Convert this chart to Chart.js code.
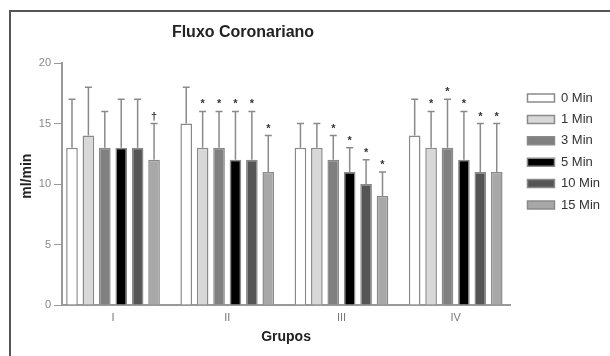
<!DOCTYPE html>
<html>
<head>
<meta charset="utf-8">
<script src="https://cdn.jsdelivr.net/npm/chart.js@4/dist/chart.umd.min.js"></script>
<style>
  html, body { margin: 0; padding: 0; background: #fff; }
  #wrap { position: relative; width: 610px; height: 356px; overflow: hidden; }
  #frame { position: absolute; left: 9px; top: 10px; width: 700px; height: 500px;
           border-left: 2px solid #555; border-top: 2px solid #555; }
  #c { position: absolute; left: 0; top: 0; }
</style>
</head>
<body>
<div id="wrap">
  <div id="frame"></div>
  <canvas id="c" width="610" height="356"></canvas>
</div>
<script>
// ---- data ----
const chartTitle = 'Fluxo Coronariano';
const groups = ['I', 'II', 'III', 'IV'];
const seriesNames = ['0 Min', '1 Min', '3 Min', '5 Min', '10 Min', '15 Min'];
const yTicks = [0, 5, 10, 15, 20];

const min0 = [13, 15, 13, 14];
const min1 = [14, 13, 13, 13];
const min3 = [13, 13, 12, 13];
const min5 = [13, 12, 11, 12];
const min10 = [13, 12, 10, 11];
const min15 = [12, 11, 9, 11];

const sd0 = [4, 3, 2, 3];
const sd1 = [4, 3, 2, 3];
const sd3 = [3, 3, 2, 4];
const sd5 = [4, 4, 2, 4];
const sd10 = [4, 4, 2, 4];
const sd15 = [3, 3, 2, 4];

const mark0 = ['', '', '', ''];
const mark1 = ['', '*', '', '*'];
const mark3 = ['', '*', '*', '*'];
const mark5 = ['', '*', '*', '*'];
const mark10 = ['', '*', '*', '*'];
const mark15 = ['\u2020', '*', '*', '*'];

const seriesValues = [min0, min1, min3, min5, min10, min15];
const seriesSD = [sd0, sd1, sd3, sd5, sd10, sd15];
const seriesMarks = [mark0, mark1, mark3, mark5, mark10, mark15];
const fills = ['#ffffff', '#d8d8d8', '#808080', '#000000', '#555555', '#a8a8a8'];

const FONT = "'Liberation Sans', Arial, Helvetica, sans-serif";

const datasets = seriesNames.map((name, s) => ({
  label: name,
  data: seriesValues[s].map((v, i) => ({ x: i, y: v })),
  backgroundColor: fills[s],
  borderColor: '#8a8a8a',
  borderWidth: 1.5,
  borderSkipped: 'bottom',
  categoryPercentage: 0.862,
  barPercentage: 0.71,
  sd: seriesSD[s],
  marks: seriesMarks[s]
}));

const errorBars = {
  id: 'errorBars',
  afterDatasetsDraw(chart) {
    const ctx = chart.ctx;
    const yScale = chart.scales.y;
    ctx.save();
    chart.data.datasets.forEach((ds, di) => {
      const meta = chart.getDatasetMeta(di);
      meta.data.forEach((el, j) => {
        const top = yScale.getPixelForValue(ds.data[j].y + ds.sd[j]);
        ctx.strokeStyle = '#8a8a8a';
        ctx.lineWidth = 1.5;
        ctx.beginPath();
        ctx.moveTo(el.x, el.y);
        ctx.lineTo(el.x, top);
        ctx.moveTo(el.x - 3.5, top);
        ctx.lineTo(el.x + 3.5, top);
        ctx.stroke();
        const m = ds.marks[j];
        if (m) {
          ctx.fillStyle = '#333';
          ctx.font = 'bold 11px ' + FONT;
          ctx.textAlign = 'center';
          ctx.textBaseline = 'middle';
          ctx.fillText(m, el.x, top - 7);
        }
      });
    });
    ctx.restore();
  }
};

const titlePlugin = {
  id: 'titleText',
  afterDraw(chart) {
    const ctx = chart.ctx;
    ctx.save();
    ctx.fillStyle = '#222';
    ctx.font = 'bold 16px ' + FONT;
    ctx.textAlign = 'center';
    ctx.textBaseline = 'middle';
    ctx.fillText(chartTitle, 243, 33);
    ctx.restore();
  }
};

new Chart(document.getElementById('c'), {
  type: 'bar',
  data: { datasets },
  plugins: [errorBars, titlePlugin],
  options: {
    responsive: false,
    animation: false,
    devicePixelRatio: 1,
    layout: { padding: { top: 63, left: 0, right: 0, bottom: 0 } },
    plugins: {
      title: { display: false },
      tooltip: { enabled: false },
      legend: {
        display: true,
        position: 'right',
        align: 'start',
        fullSize: false,
        title: { display: true, text: ' ', font: { size: 10 }, padding: { top: 0, bottom: 8.1 } },
        labels: {
          boxWidth: 27,
          boxHeight: 8,
          padding: 8.4,
          color: '#333',
          font: { family: FONT, size: 13 }
        }
      }
    },
    scales: {
      x: {
        type: 'linear',
        position: 'bottom',
        offset: false,
        min: -0.4466,
        max: 3.476,
        afterBuildTicks: (scale) => { scale.ticks = groups.map((g, i) => ({ value: i })); },
        afterFit: (scale) => { scale.height = 51; },
        grid: { display: false, drawTicks: false, offset: false },
        border: { display: true, color: '#999', width: 2 },
        ticks: {
          callback: (v) => groups[v] !== undefined ? groups[v] : '',
          color: '#777',
          font: { family: FONT, size: 11 },
          padding: 6,
          maxRotation: 0,
          autoSkip: false
        },
        title: {
          display: true,
          text: 'Grupos',
          color: '#222',
          font: { family: FONT, size: 14, weight: 'bold' },
          padding: { top: 0, bottom: 10.6 }
        }
      },
      y: {
        type: 'linear',
        position: 'left',
        min: 0,
        max: 20,
        afterBuildTicks: (scale) => { scale.ticks = yTicks.map(v => ({ value: v })); },
        afterFit: (scale) => { scale.width = 62; },
        grid: { display: true, drawOnChartArea: false, drawTicks: true, tickLength: 8, color: '#999', lineWidth: 1 },
        border: { display: true, color: '#999', width: 2 },
        ticks: {
          color: '#888',
          font: { family: FONT, size: 11 },
          padding: 3
        },
        title: {
          display: true,
          text: '    ml/min',
          color: '#222',
          font: { family: FONT, size: 14, weight: 'bold' },
          padding: { top: 18.6, bottom: 0 }
        }
      },
      y2: {
        type: 'linear',
        position: 'right',
        display: true,
        afterFit: (scale) => { scale.width = 9; },
        grid: { display: false, drawTicks: false },
        border: { display: false },
        ticks: { display: false }
      }
    }
  }
});
</script>
</body>
</html>
